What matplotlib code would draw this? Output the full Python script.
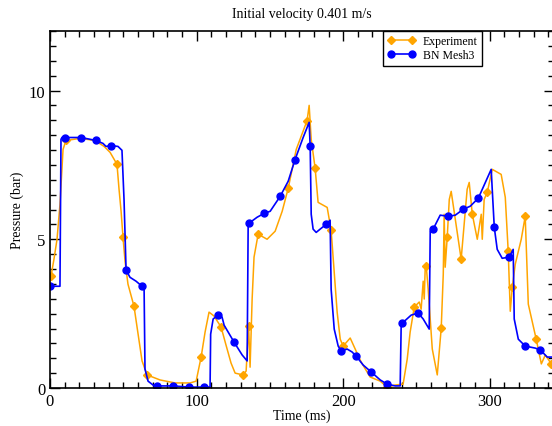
import matplotlib
matplotlib.use("Agg")
import matplotlib.pyplot as plt
from matplotlib.ticker import MultipleLocator

plt.rcParams["font.family"] = ["Liberation Serif", "DejaVu Serif"]

# BN Mesh3 simulation trace (time in ms, pressure in bar)
sim_t = [0.0, 6.8, 7.5, 8.2, 10.2, 21.2, 31.4, 36.2, 38.2, 41.6, 46.4, 49.1, 50.5, 51.9,
         54.6, 58.7, 62.8, 64.2, 64.8, 66.9, 70.3, 73.0, 84.0, 94.9, 105.1, 109.2, 109.6,
         111.3, 114.7, 117.4, 118.8, 125.6, 131.1, 134.5, 135.2, 135.8, 141.3, 146.1,
         150.2, 157.0, 162.5, 167.2, 172.7, 176.8, 177.5, 178.2, 179.5, 181.6, 184.3,
         188.4, 191.1, 191.8, 193.9, 196.6, 198.6, 202.7, 206.1, 208.9, 213.7, 219.1,
         225.3, 230.0, 235.5, 238.9, 239.6, 240.3, 246.4, 251.2, 254.6, 258.7, 259.4,
         261.4, 266.2, 271.7, 276.5, 282.0, 286.7, 292.2, 301.0, 301.7, 303.1, 305.1,
         308.5, 313.3, 316.0, 316.7, 319.5, 324.2, 331.1, 334.5, 339.2, 342.7]
sim_p = [3.42, 3.42, 8.36, 8.42, 8.42, 8.42, 8.32, 8.22, 8.12, 8.15, 8.12, 7.99, 6.34, 3.96,
         3.72, 3.59, 3.42, 3.32, 0.64, 0.23, 0.10, 0.07, 0.07, 0.03, 0.03, 0.03, 1.81,
         2.32, 2.45, 2.38, 2.11, 1.54, 1.11, 0.91, 5.54, 5.54, 5.74, 5.87,
         5.94, 6.44, 6.95, 7.68, 8.42, 8.93, 8.12, 5.84, 5.34, 5.23, 5.34,
         5.50, 5.64, 3.32, 1.98, 1.41, 1.24, 1.31, 1.21, 1.07, 0.77, 0.54,
         0.27, 0.13, 0.07, 0.07, 2.18, 2.18, 2.45, 2.52, 2.32, 1.98, 5.27,
         5.34, 5.81, 5.77, 5.81, 6.01, 6.11, 6.38, 7.35, 6.68, 5.40, 4.66,
         4.36, 4.40, 4.66, 2.32, 1.64, 1.41, 1.34, 1.28, 1.04, 1.04]
sim_marks = [0, 4, 5, 6, 9, 13, 16, 21, 22, 23, 24, 28, 31, 35, 37, 39, 41, 44, 49, 54,
             57, 59, 61, 65, 67, 71, 73, 75, 77, 80, 83, 87, 89]

# Experiment trace
exp_t = [0.7, 2.7, 4.8, 6.8, 8.9, 10.9, 20.5, 30.7, 36.9, 41.0, 45.7, 47.1, 48.5, 49.8,
         51.2, 53.2, 57.3, 60.1, 62.8, 66.2, 75.1, 85.3, 95.6, 99.7, 103.1, 105.8, 108.5,
         111.9, 116.7, 120.1, 123.5, 126.3, 131.7, 133.8, 135.5, 136.5, 137.9, 139.2,
         142.0, 148.1, 153.6, 158.4, 162.5, 168.0, 175.4, 176.8, 178.2, 180.9, 182.9,
         189.1, 191.8, 195.9, 198.0, 200.0, 204.8, 208.2, 212.3, 218.4, 225.3, 230.0,
         235.5, 240.9, 243.7, 245.7, 248.5, 251.9, 253.2, 254.6, 255.3, 256.0, 256.7,
         258.0, 260.8, 264.2, 266.9, 268.3, 268.9, 269.6, 271.0, 272.4, 273.7, 280.5,
         284.6, 286.0, 288.1, 291.5, 294.2, 294.9, 296.2, 298.3, 301.7, 307.8, 310.6,
         312.6, 314.0, 315.4, 317.4, 321.5, 324.2, 326.3, 331.7, 335.2, 337.9, 342.0]
exp_p = [3.76, 4.33, 5.00, 6.17, 8.02, 8.32, 8.39, 8.32, 8.12, 7.92, 7.52, 6.68, 5.94, 5.07,
         4.26, 3.49, 2.75, 1.81, 0.91, 0.44, 0.27, 0.17, 0.17, 0.23, 1.04, 1.88, 2.55,
         2.42, 2.05, 1.44, 0.84, 0.50, 0.44, 0.57, 2.08, 0.70, 2.99, 4.40,
         5.17, 5.00, 5.27, 5.94, 6.71, 8.02, 8.99, 9.50, 8.36, 7.38, 6.24,
         6.07, 5.30, 2.55, 1.64, 1.41, 1.68, 1.31, 0.87, 0.37, 0.23, 0.03,
         0.10, 0.13, 0.97, 1.88, 2.72, 2.89, 2.65, 3.59, 2.99, 4.06, 4.09,
         3.32, 1.31, 0.44, 2.01, 3.83, 5.84, 4.06, 5.07, 6.34, 6.61, 4.33,
         6.68, 6.91, 5.84, 5.00, 5.84, 5.00, 6.34, 6.58, 7.35, 7.18, 6.41,
         4.60, 2.58, 3.39, 4.16, 5.00, 5.77, 2.82, 1.64, 0.81, 1.11, 0.81]
exp_marks = [0, 5, 10, 13, 16, 19, 24, 28, 32, 34, 38, 42, 44, 47, 50, 53, 59, 64, 70, 74,
             78, 81, 84, 89, 93, 95, 98, 100, 103]

fig = plt.figure(figsize=(5.52, 4.27), dpi=100)
ax = fig.add_axes([50 / 552, 38 / 427, 503.5 / 552, 357 / 427])

ax.plot(exp_t, exp_p, color="#ffa500", lw=1.1, marker="D", ms=4.5,
        markevery=exp_marks, label="Experiment")
ax.plot(sim_t, sim_p, color="#0000ff", lw=1.2, marker="o", ms=5,
        markevery=sim_marks, label="BN Mesh3")

ax.set_xlim(0, 343.5)
ax.set_ylim(0, 12)
ax.xaxis.set_major_locator(MultipleLocator(100))
ax.xaxis.set_minor_locator(MultipleLocator(10))
ax.yaxis.set_major_locator(MultipleLocator(5))
ax.yaxis.set_minor_locator(MultipleLocator(0.5))
ax.tick_params(which="both", direction="in", top=True, right=True, labelsize=12, width=1)
ax.tick_params(which="major", length=7)
ax.tick_params(which="minor", length=4)
for s in ax.spines.values():
    s.set_linewidth(1.2)

ax.set_xlabel("Time (ms)", fontsize=10, labelpad=0)
ax.set_ylabel("Pressure (bar)", fontsize=10, labelpad=3)
ax.set_title("Initial velocity 0.401 m/s", fontsize=10, pad=10)

leg = ax.legend(loc="upper left", bbox_to_anchor=(333 / 503.5, 1.0), fontsize=8.5,
                numpoints=2, fancybox=False, framealpha=1, edgecolor="black",
                borderaxespad=0, handlelength=2.4, borderpad=0.35, labelspacing=0.2,
                handletextpad=0.6)
leg.get_frame().set_linewidth(1)

fig.savefig("out.png", dpi=100)
